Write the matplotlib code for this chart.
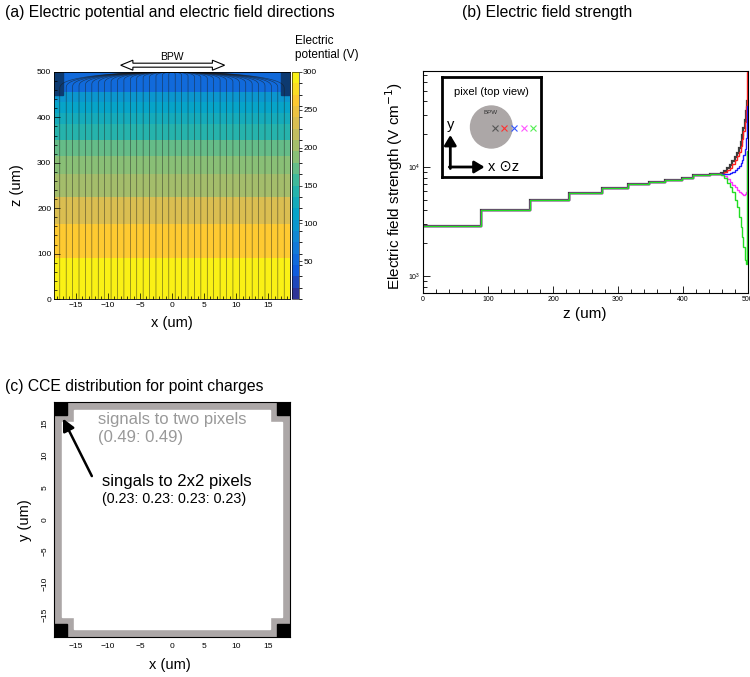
import numpy as np
import matplotlib
matplotlib.use("Agg")
import matplotlib.pyplot as plt
from matplotlib import font_manager
from matplotlib.colors import LinearSegmentedColormap, ListedColormap, BoundaryNorm
from matplotlib.cm import ScalarMappable
from matplotlib.patches import Rectangle, Polygon, Circle
from matplotlib.ticker import MultipleLocator, LogLocator, NullFormatter

W, H = 750, 677

try:
    font_manager.findfont("Liberation Sans Narrow", fallback_to_default=False)
    FONT = "Liberation Sans Narrow"
except Exception:
    FONT = "Liberation Sans"
plt.rcParams['font.family'] = [FONT, 'DejaVu Sans']

# ---- (a) potential map, banded in z ----
pot_z_edges = [0, 90, 165, 225, 275, 315, 350, 385, 410, 435, 455, 500]
pot_values = [288, 258, 230, 205, 182, 168, 148, 128, 108, 90, 55]
cbar_ticks = [50, 100, 150, 200, 250, 300]
field_line_x0 = np.arange(-17.5, 17.6, 1.0)
half = 18.4

# ---- (b) field strength along z for 5 positions ----
z_common = [0, 90, 165, 225, 275, 315, 347, 372, 398, 416, 442, 458]
e_common = [2890, 4030, 4980, 5810, 6460, 7050, 7330, 7600, 7980, 8400, 8630]
z_tail = [458, 463, 468, 472, 476, 480, 483, 486, 489, 491, 493, 495, 497, 498.5, 500]
e_tail = {
    'gray':    [8800, 9200, 9700, 10500, 11300, 12300, 13400, 14800, 17000, 19500, 23000, 27000, 33000, 40000],
    'red':     [8700, 9000, 9400, 9900, 10600, 11500, 12500, 13800, 15500, 18000, 21500, 26000, 36000, 75000],
    'blue':    [8600, 8600, 8700, 8900, 9100, 9400, 9800, 10300, 10900, 11700, 12800, 14500, 18500, 36000],
    'magenta': [8500, 8200, 7800, 7300, 6900, 6500, 6200, 5950, 5750, 5650, 5600, 5650, 5900, 14000],
    'green':   [8400, 7900, 7200, 6600, 5900, 5000, 4300, 3500, 2800, 2300, 1850, 1400, 1300, 14000],
}
line_colors = {'gray': '#3c3c3c', 'red': '#ff2020', 'blue': '#1a1aff',
               'magenta': '#ff30ff', 'green': '#22dd22'}
marker_colors = ['#555555', '#ff3030', '#3355ff', '#ff55ff', '#55ee55']
marker_x = [0.538, 0.629, 0.723, 0.824, 0.919]

# ---- (c) CCE map geometry ----
band = 1.2
corner_gray = 3.1
corner_black = 2.1


def ax_rect(l, t, r, b):
    return [l / W, 1 - b / H, (r - l) / W, (b - t) / H]


def ftext(px, py, s, **kw):
    fig.text(px / W, 1 - py / H, s, **kw)


fig = plt.figure(figsize=(7.5, 6.77), dpi=100)

# ROOT "bird" palette
stops = [0.0, 0.125, 0.25, 0.375, 0.5, 0.625, 0.75, 0.875, 1.0]
r_ = [0.2082, 0.0592, 0.0780, 0.0232, 0.1802, 0.5301, 0.8186, 0.9956, 0.9764]
g_ = [0.1664, 0.3599, 0.5041, 0.6419, 0.7178, 0.7492, 0.7328, 0.7862, 0.9832]
b_ = [0.5293, 0.8684, 0.8385, 0.7914, 0.6425, 0.4662, 0.3499, 0.1968, 0.0539]
bird = LinearSegmentedColormap.from_list('bird', list(zip(stops, zip(r_, g_, b_))))
nlev = 20
cmap = ListedColormap(bird((np.arange(nlev) + 0.5) / nlev))
norm = BoundaryNorm(np.linspace(0, 300, nlev + 1), nlev)

# ================= (a) =================
axA = fig.add_axes(ax_rect(54, 72, 290, 299))
axA.pcolormesh([-half, half], pot_z_edges, np.array(pot_values)[:, None],
               cmap=cmap, norm=norm, shading='flat', zorder=0)
for sx in (-half, half - 1.45):
    axA.add_patch(Rectangle((sx, 450), 1.45, 50, color='#0d3a70', zorder=1))
th = np.linspace(0, np.pi / 2, 50)
for x0 in field_line_x0:
    h = 5 + 1.8 * abs(x0)
    xs = np.r_[x0, x0 * np.cos(th)]
    zs = np.r_[0, 500 - h + h * np.sin(th) ** 0.8]
    axA.plot(xs, zs, color='#1a1a1a', lw=0.45, alpha=0.65, zorder=2)
axA.set_xlim(-half, half)
axA.set_ylim(0, 500)
axA.xaxis.set_major_locator(MultipleLocator(5))
axA.xaxis.set_minor_locator(MultipleLocator(1))
axA.yaxis.set_major_locator(MultipleLocator(100))
axA.yaxis.set_minor_locator(MultipleLocator(20))
axA.tick_params(which='both', direction='in', labelsize=6, width=0.5, pad=2)
axA.tick_params(which='major', length=4)
axA.tick_params(which='minor', length=2)
for s in axA.spines.values():
    s.set_linewidth(0.6)

# BPW double arrow (hollow)
ah, al, sh = 11, 1.9, 4.4
xl, xr, zc = -8.0, 8.2, 515
arrow = Polygon([(xl, zc), (xl + al, zc + ah), (xl + al, zc + sh), (xr - al, zc + sh),
                 (xr - al, zc + ah), (xr, zc), (xr - al, zc - ah), (xr - al, zc - sh),
                 (xl + al, zc - sh), (xl + al, zc - ah)], closed=True,
                fc='white', ec='black', lw=0.8, clip_on=False, zorder=5)
axA.add_patch(arrow)
axA.text(0, 533, "BPW", ha='center', va='center', fontsize=7.5, clip_on=False)

cax = fig.add_axes(ax_rect(292, 72, 299, 299))
cb = fig.colorbar(ScalarMappable(norm=norm, cmap=cmap), cax=cax, ticks=cbar_ticks)
cb.ax.tick_params(labelsize=6, length=2, width=0.5, pad=1)
cb.outline.set_linewidth(0.4)
ftext(295, 48, "Electric\npotential (V)", ha='left', va='center', fontsize=8.5, linespacing=1.15)

ftext(172, 323, "x (um)", ha='center', va='center', fontsize=10.5)
ftext(17, 185, "z (um)", ha='center', va='center', rotation=90, fontsize=10.5)

# ================= (b) =================
axB = fig.add_axes(ax_rect(423, 71, 748, 293))
edges = z_common + z_tail[1:]
for key in ['gray', 'red', 'blue', 'magenta', 'green']:
    vals = e_common + e_tail[key]
    axB.stairs(vals, edges, color=line_colors[key], lw=1.6 if key == 'gray' else 1.0, baseline=None)
axB.set_yscale('log')
axB.set_xlim(0, 500)
axB.set_ylim(700, 7.6e4)
axB.xaxis.set_major_locator(MultipleLocator(100))
axB.xaxis.set_minor_locator(MultipleLocator(20))
axB.yaxis.set_major_locator(LogLocator(base=10))
axB.yaxis.set_minor_locator(LogLocator(base=10, subs=np.arange(2, 10)))
axB.yaxis.set_minor_formatter(NullFormatter())
axB.tick_params(which='both', direction='in', labelsize=5, width=0.6, pad=2)
axB.tick_params(which='major', length=5)
axB.tick_params(which='minor', length=3)
for s in axB.spines.values():
    s.set_linewidth(0.8)
ftext(394, 186, "Electric field strength (V cm$^{-1}$)", ha='center', va='center',
      rotation=90, fontsize=11)
ftext(585, 314, "z (um)", ha='center', va='center', fontsize=11)

# inset: pixel top view
axI = fig.add_axes(ax_rect(442, 77, 541, 177))
axI.set_xlim(0, 1)
axI.set_ylim(0, 1)
axI.set_xticks([])
axI.set_yticks([])
for s in axI.spines.values():
    s.set_linewidth(2)
axI.text(0.5, 0.85, "pixel (top view)", ha='center', va='center', fontsize=8)
axI.add_patch(Circle((0.498, 0.5), 0.21, color='#aca7a7'))
axI.text(0.49, 0.65, "BPW", ha='center', va='center', fontsize=4.5, color='#333333')
for mx, mc in zip(marker_x, marker_colors):
    axI.plot(mx, 0.487, marker='x', ms=5, mew=0.8, color=mc, ls='none')
axI.annotate("", xy=(0.084, 0.42), xytext=(0.084, 0.085),
             arrowprops=dict(arrowstyle='-|>,head_length=0.5,head_width=0.3', lw=2, color='k',
                             shrinkA=0, shrinkB=0, mutation_scale=12))
axI.annotate("", xy=(0.43, 0.1), xytext=(0.074, 0.1),
             arrowprops=dict(arrowstyle='-|>,head_length=0.5,head_width=0.3', lw=2, color='k',
                             shrinkA=0, shrinkB=0, mutation_scale=12))
axI.text(0.084, 0.52, "y", ha='center', va='center', fontsize=10.5)
axI.text(0.465, 0.1, "x \u2299z", ha='left', va='center', fontsize=10.5,
         family=['Liberation Sans', 'DejaVu Sans'])

# ================= (c) =================
axC = fig.add_axes(ax_rect(54, 402, 290, 637))
axC.add_patch(Rectangle((-half, -half), 2 * half, 2 * half, color='#aca7a7', zorder=0))
b = half - band
c = half - corner_gray
axC.add_patch(Polygon([(-c, b), (c, b), (c, c), (b, c), (b, -c), (c, -c), (c, -b), (-c, -b),
                       (-c, -c), (-b, -c), (-b, c), (-c, c)], closed=True, color='white', zorder=1))
for sx in (-half, half - corner_black):
    for sy in (-half, half - corner_black):
        axC.add_patch(Rectangle((sx, sy), corner_black, corner_black, color='black', zorder=2))
axC.set_xlim(-half, half)
axC.set_ylim(-half, half)
axC.xaxis.set_major_locator(MultipleLocator(5))
axC.yaxis.set_major_locator(MultipleLocator(5))
axC.tick_params(which='both', length=0, labelsize=6, pad=4)
for lab in axC.get_yticklabels():
    lab.set_rotation(90)
    lab.set_va('center')
for s in axC.spines.values():
    s.set_linewidth(0.8)
axC.text(-11.5, 15.7, "signals to two pixels", color='#999999', fontsize=12, va='center', ha='left')
axC.text(-11.5, 12.8, "(0.49: 0.49)", color='#999999', fontsize=12, va='center', ha='left')
axC.text(-10.9, 5.9, "singals to 2x2 pixels", color='black', fontsize=12, va='center', ha='left')
axC.text(-10.9, 3.2, "(0.23: 0.23: 0.23: 0.23)", color='black', fontsize=10.3, va='center', ha='left')
axC.annotate("", xy=(-17.0, 15.8), xytext=(-12.5, 6.8),
             arrowprops=dict(arrowstyle='-|>,head_length=0.6,head_width=0.3', lw=1.8, color='k',
                             shrinkA=0, shrinkB=0, mutation_scale=12), zorder=5)
ftext(170, 665, "x (um)", ha='center', va='center', fontsize=10.5)
ftext(25, 520, "y (um)", ha='center', va='center', rotation=90, fontsize=10.5)

# titles
ftext(5, 12, "(a) Electric potential and electric field directions", ha='left', va='center', fontsize=11.3)
ftext(462, 12, "(b) Electric field strength", ha='left', va='center', fontsize=11.3)
ftext(5, 386, "(c) CCE distribution for point charges", ha='left', va='center', fontsize=11.3)

fig.savefig("out.png", dpi=100)
